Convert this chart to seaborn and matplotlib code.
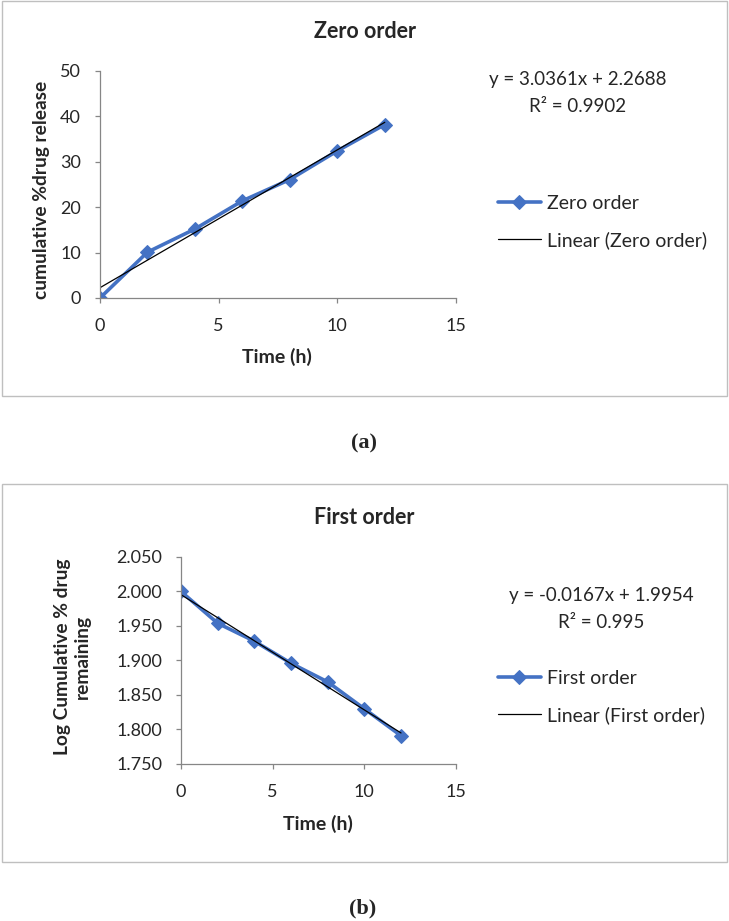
import numpy as np
import pandas as pd
import matplotlib
matplotlib.use("Agg")
import matplotlib.pyplot as plt
from matplotlib.patches import Rectangle
from matplotlib.ticker import FormatStrFormatter
import seaborn as sns


TIME_H = [0, 2, 4, 6, 8, 10, 12]

ZERO_ORDER = [0.0, 10.1, 15.2, 21.4, 26.1, 32.4, 38.2]
ZERO_SLOPE = 3.0361
ZERO_INTERCEPT = 2.2688
ZERO_R2 = "0.9902"

FIRST_ORDER = [2.000, 1.954, 1.928, 1.896, 1.869, 1.830, 1.791]
FIRST_SLOPE = -0.0167
FIRST_INTERCEPT = 1.9954
FIRST_R2 = "0.995"

BLUE = "#4472C4"
GREY = "#868686"
W, H = 729, 921


def fx(px):
    return px / W


def fy(py):
    return 1 - py / H


def draw_panel(fig, box, ax_box, x, y, slope, intercept, r2, name,
               ylabel, ylabel_pos, xlabel_pos, ylim, yticks, yfmt,
               title, eq_pos, leg_y, caption):
    # panel frame
    bx0, by0, bx1, by1 = box
    fig.patches.append(Rectangle(
        (fx(bx0), fy(by1)), fx(bx1 - bx0), (by1 - by0) / H,
        transform=fig.transFigure, fill=False,
        edgecolor="#BFBFBF", linewidth=1.0
    ))

    l, t, r, b = ax_box
    ax = fig.add_axes([fx(l), fy(b), fx(r - l), (b - t) / H])

    df = pd.DataFrame({"Time": x, "Value": y})
    sns.lineplot(
        data=df, x="Time", y="Value", ax=ax,
        color=BLUE, linewidth=2.6, marker="D", markersize=7,
        markeredgecolor=BLUE, label=name
    )

    xs = np.array([min(x), max(x)])
    trend = pd.DataFrame({"Time": xs, "Value": slope * xs + intercept})
    sns.lineplot(
        data=trend, x="Time", y="Value", ax=ax,
        color="black", linewidth=0.9, label=f"Linear ({name})"
    )

    ax.set_xlim(0, 15)
    ax.set_xticks([0, 5, 10, 15])
    ax.set_ylim(*ylim)
    ax.set_yticks(yticks)
    ax.yaxis.set_major_formatter(FormatStrFormatter(yfmt))

    for side in ["top", "right"]:
        ax.spines[side].set_visible(False)
    for side in ["left", "bottom"]:
        ax.spines[side].set_color(GREY)
        ax.spines[side].set_linewidth(0.9)
    ax.tick_params(axis="both", direction="out", length=3.6, width=0.9,
                   color=GREY, labelsize=13, left=True, bottom=True)
    ax.tick_params(axis="x", pad=11)
    ax.tick_params(axis="y", pad=10)

    ax.set_xlabel("")
    ax.set_ylabel("")
    fig.text(fx(xlabel_pos[0]), fy(xlabel_pos[1]), "Time (h)",
             ha="center", va="center", fontsize=14, fontweight="bold")
    fig.text(fx(ylabel_pos[0]), fy(ylabel_pos[1]), ylabel, ha="center",
             va="center", rotation=90, fontsize=13.8, fontweight="bold",
             linespacing=1.2, multialignment="center")

    fig.text(fx((bx0 + bx1) / 2), fy(title[1]), title[0], ha="center",
             va="center", fontsize=15.5, fontweight="bold")

    sign = "+" if intercept >= 0 else "-"
    eq = f"y = {slope:.4f}x {sign} {abs(intercept):.4f}"
    fig.text(fx(eq_pos[0]), fy(eq_pos[1]), eq, ha="center", va="center",
             fontsize=13.5)
    fig.text(fx(eq_pos[0]), fy(eq_pos[1] + 26), f"R² = {r2}", ha="center",
             va="center", fontsize=13.5)

    ax.legend(
        loc="center left", bbox_to_anchor=(fx(498), fy(leg_y)),
        bbox_transform=fig.transFigure, frameon=False, fontsize=14,
        handlelength=2.2, handletextpad=0.3, labelspacing=1.0,
        borderpad=0, borderaxespad=0
    )

    fig.text(fx(caption[0]), fy(caption[1]), caption[2], ha="center",
             va="center", fontsize=16, fontweight="bold",
             family="Liberation Serif")
    return ax


def main():
    sns.set_style("white")
    plt.rcParams["font.family"] = ["Lato", "DejaVu Sans"]

    fig = plt.figure(figsize=(W / 100, H / 100), dpi=100)

    draw_panel(
        fig, box=(2, 1, 727, 396), ax_box=(100, 71, 456, 298),
        x=TIME_H, y=ZERO_ORDER, slope=ZERO_SLOPE,
        intercept=ZERO_INTERCEPT, r2=ZERO_R2, name="Zero order",
        ylabel="cumulative %drug release", ylabel_pos=(42, 190),
        xlabel_pos=(277, 357), ylim=(0, 50),
        yticks=[0, 10, 20, 30, 40, 50], yfmt="%d",
        title=("Zero order", 32), eq_pos=(578, 80), leg_y=222,
        caption=(364, 443, "(a)")
    )

    draw_panel(
        fig, box=(2, 484, 727, 862), ax_box=(181, 557, 456, 764),
        x=TIME_H, y=FIRST_ORDER, slope=FIRST_SLOPE,
        intercept=FIRST_INTERCEPT, r2=FIRST_R2, name="First order",
        ylabel="Log Cumulative % drug\nremaining", ylabel_pos=(72, 657),
        xlabel_pos=(318, 824), ylim=(1.75, 2.05),
        yticks=[1.75, 1.80, 1.85, 1.90, 1.95, 2.00, 2.05], yfmt="%.3f",
        title=("First order", 517), eq_pos=(601, 596), leg_y=697,
        caption=(363, 908, "(b)")
    )

    fig.savefig("out.png", dpi=100)


if __name__ == "__main__":
    main()
